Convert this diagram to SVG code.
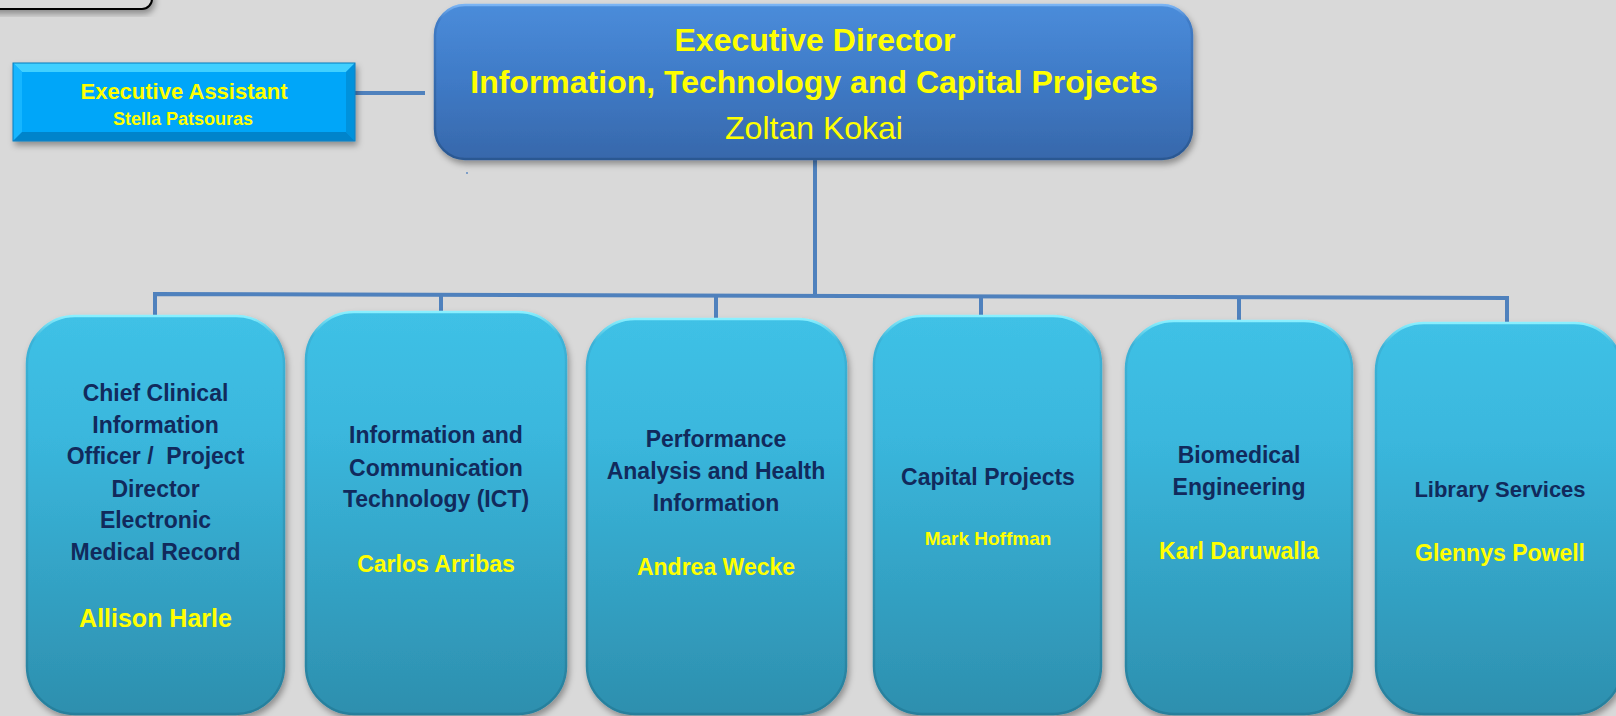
<svg xmlns="http://www.w3.org/2000/svg" width="1616" height="716" viewBox="0 0 1616 716">
<style>
.t{font-family:"Liberation Sans",Arial,sans-serif;font-weight:bold;text-anchor:middle}
.dk{fill:#112a5c;font-size:23px}
.yl{fill:#ffff00;font-size:23px}
.conn{fill:none;stroke:#4f81bd;stroke-width:4}
.box{fill:url(#gBox);stroke:url(#gBoxStroke);stroke-width:2.5}
</style>
<defs>
<linearGradient id="gBox" x1="0" y1="0" x2="0" y2="1">
<stop offset="0" stop-color="#3fc1e6"/>
<stop offset="0.3" stop-color="#3ab7dd"/>
<stop offset="1" stop-color="#2d8fae"/>
</linearGradient>
<linearGradient id="gBoxStroke" x1="0" y1="0" x2="0" y2="1">
<stop offset="0" stop-color="#8af0ff"/>
<stop offset="0.06" stop-color="#3bb3d8"/>
<stop offset="1" stop-color="#277f9c"/>
</linearGradient>
<linearGradient id="gED" x1="0" y1="0" x2="0" y2="1">
<stop offset="0" stop-color="#4a8cda"/>
<stop offset="0.5" stop-color="#3f7ac6"/>
<stop offset="1" stop-color="#3768ab"/>
</linearGradient>
<linearGradient id="gEDStroke" x1="0" y1="0" x2="0" y2="1">
<stop offset="0" stop-color="#7ab4f4"/>
<stop offset="0.1" stop-color="#3f7bc6"/>
<stop offset="1" stop-color="#2b5892"/>
</linearGradient>
<filter id="sh" x="-10%" y="-10%" width="125%" height="125%">
<feDropShadow dx="2" dy="4" stdDeviation="3" flood-color="#000" flood-opacity="0.35"/>
</filter>
</defs>
<rect width="1616" height="716" fill="#d9d9d9"/>

<g id="topleft-box">
<rect x="-20" y="-40" width="172" height="49" rx="10" fill="#d9d9d9" stroke="#000" stroke-width="2" filter="url(#sh)"/>
</g>

<g id="connectors">
<path class="conn" d="M355,93 H425"/>
<path class="conn" d="M815,159 V296"/>
<path class="conn" d="M155,316 V294 L1507,298 V323"/>
<path class="conn" d="M441,294.8 V313"/>
<path class="conn" d="M716,295.7 V320"/>
<path class="conn" d="M981,296.4 V317"/>
<path class="conn" d="M1239,297.2 V322"/>
</g>

<g id="executive-assistant">
<g filter="url(#sh)">
<rect x="13" y="63" width="342" height="78" fill="#06a6f9"/>
<polygon points="13,63 355,63 346,72 22,72" fill="#3fd0ff"/>
<polygon points="13,63 22,72 22,132 13,141" fill="#17b6ff"/>
<polygon points="355,63 346,72 346,132 355,141" fill="#0592dc"/>
<polygon points="13,141 355,141 346,132 22,132" fill="#0584cb"/>
<rect x="13" y="63" width="342" height="78" fill="none" stroke="#0a7fc0" stroke-width="1"/>
</g>
<text class="t" x="184" y="99" font-size="22" fill="#ffff00">Executive Assistant</text>
<text class="t" x="183" y="125" font-size="18" fill="#ffff00">Stella Patsouras</text>
</g>

<g id="executive-director">
<rect x="435" y="5" width="757" height="154" rx="30" fill="url(#gED)" stroke="url(#gEDStroke)" stroke-width="2.5" filter="url(#sh)"/>
<text class="t" x="815" y="51" font-size="32" fill="#ffff00">Executive Director</text>
<text class="t" x="814" y="93" font-size="32" fill="#ffff00">Information, Technology and Capital Projects</text>
<text x="814" y="139" font-family="Liberation Sans, Arial, sans-serif" font-size="32" fill="#ffff00" text-anchor="middle">Zoltan Kokai</text>
<rect x="466" y="172" width="2" height="2" fill="#7f9fc8"/>
</g>

<g id="cci-emr">
<rect class="box" x="27" y="316" width="257" height="398" rx="48" filter="url(#sh)"/>
<text class="t dk" x="155.5" y="401">Chief Clinical</text>
<text class="t dk" x="155.5" y="433">Information</text>
<text class="t dk" x="155.5" y="464" xml:space="preserve">Officer /  Project</text>
<text class="t dk" x="155.5" y="497">Director</text>
<text class="t dk" x="155.5" y="528">Electronic</text>
<text class="t dk" x="155.5" y="560">Medical Record</text>
<text class="t yl" x="155.5" y="627" font-size="25" style="font-size:25px">Allison Harle</text>
</g>

<g id="ict">
<rect class="box" x="306" y="312" width="260" height="402" rx="48" filter="url(#sh)"/>
<text class="t dk" x="436" y="443">Information and</text>
<text class="t dk" x="436" y="476">Communication</text>
<text class="t dk" x="436" y="507">Technology (ICT)</text>
<text class="t yl" x="436" y="572">Carlos Arribas</text>
</g>

<g id="performance">
<rect class="box" x="587" y="319" width="259" height="395" rx="48" filter="url(#sh)"/>
<text class="t dk" x="716" y="447">Performance</text>
<text class="t dk" x="716" y="479">Analysis and Health</text>
<text class="t dk" x="716" y="511">Information</text>
<text class="t yl" x="716" y="575">Andrea Wecke</text>
</g>

<g id="capital-projects">
<rect class="box" x="874" y="316" width="227" height="398" rx="48" filter="url(#sh)"/>
<text class="t dk" x="988" y="485">Capital Projects</text>
<text class="t yl" x="988" y="545" style="font-size:19px">Mark Hoffman</text>
</g>

<g id="biomedical">
<rect class="box" x="1126" y="321" width="226" height="393" rx="48" filter="url(#sh)"/>
<text class="t dk" x="1239" y="463">Biomedical</text>
<text class="t dk" x="1239" y="495">Engineering</text>
<text class="t yl" x="1239" y="559">Karl Daruwalla</text>
</g>

<g id="library">
<rect class="box" x="1376" y="323" width="246" height="391" rx="48" filter="url(#sh)"/>
<text class="t dk" x="1500" y="497" style="font-size:22px">Library Services</text>
<text class="t yl" x="1500" y="561">Glennys Powell</text>
</g>
</svg>
